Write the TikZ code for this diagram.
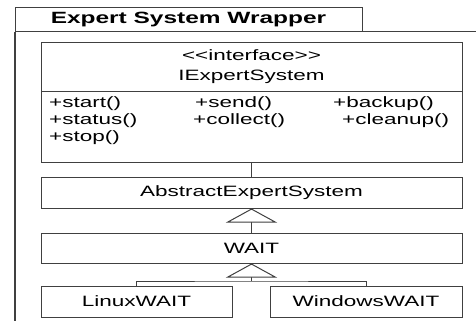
\documentclass[tikz,border=0pt]{standalone}
\usepackage{fontspec}
\setmainfont{Liberation Sans}[FakeStretch=1.5]
\usetikzlibrary{arrows.meta}
\definecolor{ln}{HTML}{404040}
\tikzset{
  box/.style={draw=ln, line width=1pt, fill=white, rectangle, inner sep=0pt, font=\fontsize{15}{18}\selectfont},
  txt/.style={inner sep=0pt, font=\fontsize{15}{18}\selectfont},
  op/.style={txt, anchor=west},
  conn/.style={draw=ln, line width=1pt},
  inh/.style={conn, -{Triangle[open, width=51pt, length=14pt, fill=white]}}
}
\begin{document}
\begin{tikzpicture}[x=1pt, y=-1pt]
\useasboundingbox (0,0) rectangle (476,321);
% package
\draw[conn, line width=1.5pt] (15,32) -- (15,321);
\draw[conn] (15,32) -- (476,32);
\node[box, minimum width=347pt, minimum height=24pt, font=\fontsize{16.3}{18}\selectfont\bfseries] (tab) at (188.5,20) {Expert System Wrapper};
% interface
\node[box, minimum width=421pt, minimum height=119pt] (iface) at (251.5,102.5) {};
\draw[conn] (41,91) -- (462,91);
\node[txt] (st) at (251.5,55) {<{}<interface>{}>};
\node[txt] (inm) at (251.5,77) {IExpertSystem};
\node[op] (o1) at (49,104) {+start()};
\node[op] (o2) at (49,121) {+status()};
\node[op] (o3) at (49,138) {+stop()};
\node[op] (o4) at (195,104) {+send()};
\node[op] (o5) at (193,121) {+collect()};
\node[op] (o6) at (333,104) {+backup()};
\node[op] (o7) at (342,121) {+cleanup()};
% classes
\node[box, minimum width=421pt, minimum height=31pt] (abs) at (251.5,192.5) {AbstractExpertSystem};
\node[box, minimum width=421pt, minimum height=30pt] (wait) at (251.5,248) {WAIT};
\node[box, minimum width=191pt, minimum height=31pt] (linux) at (136.5,301.5) {LinuxWAIT};
\node[box, minimum width=192pt, minimum height=31pt] (win) at (366,301.5) {WindowsWAIT};
\coordinate (bus) at (251.5,281);
% connectors
\draw[conn] (iface.south) -- (abs.north);
\draw[inh] (wait.north) -- (abs.south);
\draw[conn] (linux.north) |- (bus) -| (win.north);
\draw[inh] (bus) -- (wait.south);
\end{tikzpicture}
\end{document}
